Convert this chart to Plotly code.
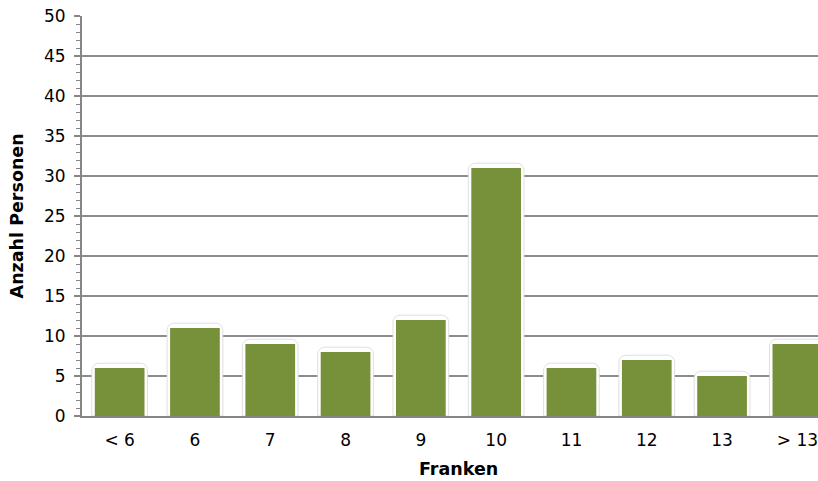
import plotly.graph_objects as go

# Anzahl Personen je Preis (Franken)
categories = ["< 6", "6", "7", "8", "9", "10", "11", "12", "13", "> 13"]
counts = [6, 11, 9, 8, 12, 31, 6, 7, 5, 9]

y_ticks = [0, 5, 10, 15, 20, 25, 30, 35, 40, 45, 50]

bar_green = "#77903A"
axis_gray = "#868686"
font_family = "DejaVu Sans, Verdana, sans-serif"

fig = go.Figure()

# soft white halo behind each bar
fig.add_trace(go.Bar(
    x=categories,
    y=[v + 0.6 for v in counts],
    width=0.74,
    marker=dict(color="rgba(255,255,255,1)",
                line=dict(color="rgba(215,215,215,0.8)", width=1),
                cornerradius=7),
    hoverinfo="skip",
    showlegend=False,
))

# the bars themselves
fig.add_trace(go.Bar(
    x=categories,
    y=counts,
    width=0.66,
    marker=dict(color=bar_green, line=dict(width=0)),
    showlegend=False,
))

fig.update_layout(
    width=818,
    height=481,
    margin=dict(l=82, r=0, t=16, b=65),
    paper_bgcolor="white",
    plot_bgcolor="white",
    barmode="overlay",
    font=dict(family=font_family, color="#000000", size=17),
)

fig.update_xaxes(
    type="category",
    range=[-0.5, 9.274],
    showline=True,
    linecolor=axis_gray,
    linewidth=2,
    ticks="",
    ticklabelstandoff=8,
    showgrid=False,
    tickfont=dict(size=17),
)

fig.update_yaxes(
    range=[0, 50],
    tickvals=y_ticks,
    showline=True,
    linecolor=axis_gray,
    linewidth=2,
    ticks="outside",
    ticklen=6,
    tickwidth=2,
    tickcolor=axis_gray,
    ticklabelstandoff=5,
    minor=dict(dtick=1, ticks="outside", ticklen=4, tickcolor=axis_gray,
               tickwidth=1, showgrid=False),
    showgrid=True,
    gridcolor="#8c8c8c",
    gridwidth=1.5,
    zeroline=False,
    tickfont=dict(size=17),
)

# axis titles, centred on the full category band
fig.add_annotation(
    text="<b>Franken</b>", xref="paper", yref="paper",
    x=0.5115, y=-0.1325, xanchor="center", yanchor="middle",
    showarrow=False, font=dict(size=17.5),
)
fig.add_annotation(
    text="<b>Anzahl Personen</b>", xref="paper", yref="paper",
    x=-0.0883, y=0.499, xanchor="center", yanchor="middle",
    textangle=-90, showarrow=False, font=dict(size=17.5),
)

fig.write_html("out.html")
